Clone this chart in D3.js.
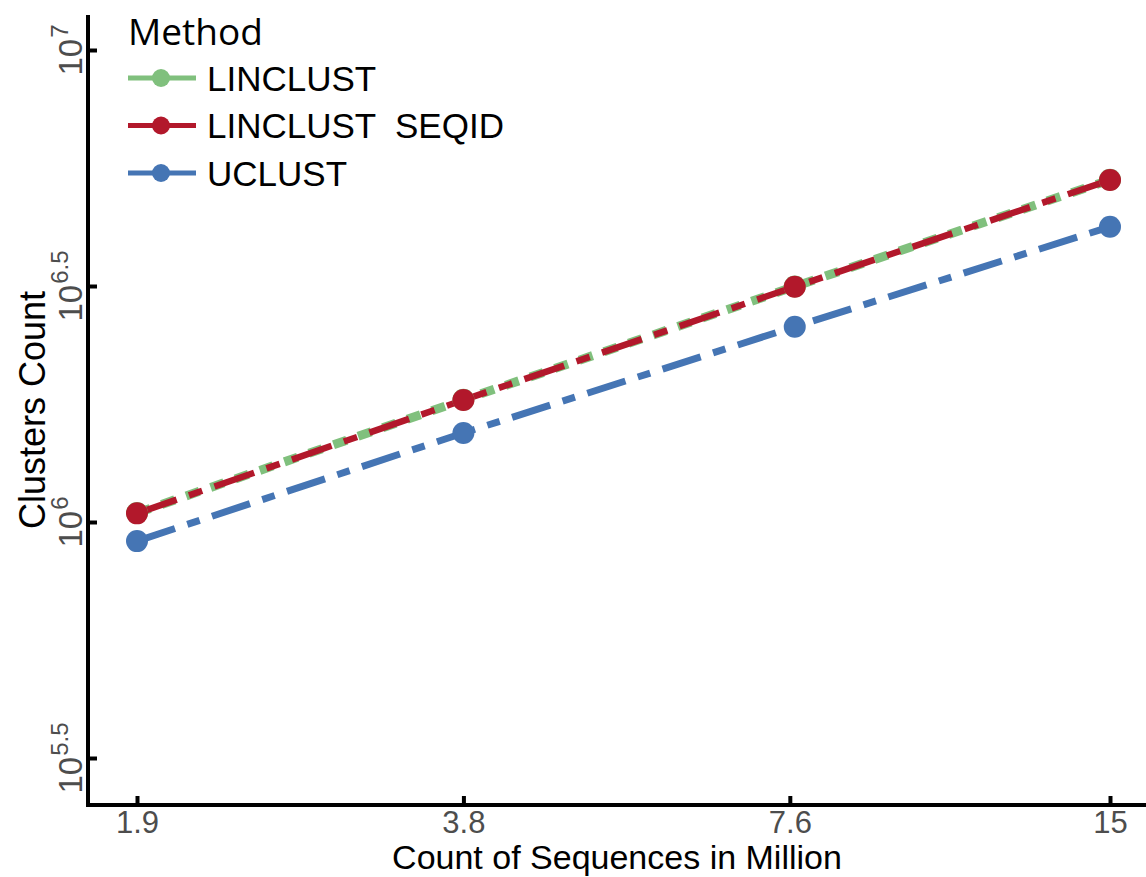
<!doctype HTML>
<html>
<head>
    <style>
        body { margin: 0; background: white; }
        .tick-label { fill: #4d4d4d; font-family: "Liberation Sans", Arial, sans-serif; }
        .axis-title { fill: black; font-family: "Liberation Sans", Arial, sans-serif; }
    </style>
    <script src="https://d3js.org/d3.v7.min.js"></script>
</head>
<body>
<script>
    var canvasWidth = 1146;
    var canvasHeight = 877;

    // data
    var methods = ["LINCLUST", "LINCLUST  SEQID", "UCLUST"];
    var seqCounts = [1.9, 3.8, 7.68, 15];
    var linclust = [1.045e6, 1.815e6, 3.155e6, 5.31e6];
    var linclustSeqid = [1.043e6, 1.813e6, 3.151e6, 5.304e6];
    var uclust = [0.911e6, 1.544e6, 2.593e6, 4.223e6];
    var xTicks = [1.9, 3.8, 7.6, 15];
    var yTicks = [5.5, 6, 6.5, 7];

    var series = [
        {name: methods[0], values: linclust, color: "#80c07d", width: 9, dash: "14,12"},
        {name: methods[1], values: linclustSeqid, color: "#b2182b", width: 6.5, dash: "42,13,14,13"},
        {name: methods[2], values: uclust, color: "#4575b4", width: 7, dash: "40,13,13,13"}
    ];

    var svg = d3.select("body").append("svg")
        .attr("width", canvasWidth)
        .attr("height", canvasHeight);

    var panelLeft = 88, panelRight = 1146, panelTop = 15, panelBottom = 805;

    var xScale = d3.scaleLog().domain([1.9, 15]).range([137, 1110]);
    var yScale = d3.scaleLog().domain([Math.pow(10, 5.5), 1e7]).range([758, 50]);

    // lines
    var line = d3.line()
        .x(function(d, i) { return xScale(seqCounts[i]); })
        .y(function(d) { return yScale(d); });

    series.forEach(function(s) {
        svg.append("path")
            .datum(s.values)
            .attr("d", line)
            .attr("fill", "none")
            .attr("stroke", s.color)
            .attr("stroke-width", s.width)
            .attr("stroke-dasharray", s.dash);
    });

    // points
    series.forEach(function(s) {
        svg.selectAll(null)
            .data(s.values)
            .enter().append("circle")
            .attr("cx", function(d, i) { return xScale(seqCounts[i]); })
            .attr("cy", function(d) { return yScale(d); })
            .attr("r", 11)
            .attr("fill", s.color);
    });

    // X axis
    var xAxis = svg.append("g")
        .attr("transform", "translate(0," + panelBottom + ")")
        .call(d3.axisBottom(xScale).tickValues(xTicks).tickSize(-9).tickFormat(d3.format("")));
    xAxis.select(".domain").remove();
    xAxis.selectAll(".tick line").attr("stroke", "black").attr("stroke-width", 4);
    xAxis.selectAll(".tick text")
        .attr("class", "tick-label")
        .attr("y", 28)
        .attr("dy", 0)
        .attr("font-size", "31px");
    svg.append("line")
        .attr("x1", panelLeft - 2).attr("x2", panelRight)
        .attr("y1", panelBottom).attr("y2", panelBottom)
        .attr("stroke", "black").attr("stroke-width", 4);

    // Y axis
    var yAxis = svg.append("g")
        .attr("transform", "translate(" + panelLeft + ",0)")
        .call(d3.axisLeft(yScale).tickValues(yTicks.map(function(t) { return Math.pow(10, t); }))
            .tickSize(-9).tickFormat(""));
    yAxis.select(".domain").remove();
    yAxis.selectAll(".tick line").attr("stroke", "black").attr("stroke-width", 4);
    svg.append("line")
        .attr("x1", panelLeft).attr("x2", panelLeft)
        .attr("y1", panelTop).attr("y2", panelBottom + 2)
        .attr("stroke", "black").attr("stroke-width", 4);

    var yLabels = svg.selectAll(".ylab")
        .data(yTicks)
        .enter().append("text")
        .attr("class", "tick-label")
        .attr("text-anchor", "middle")
        .attr("transform", function(d) {
            return "translate(82," + yScale(Math.pow(10, d)) + ") rotate(-90)";
        });
    yLabels.append("tspan").attr("font-size", "33px").text("10");
    yLabels.append("tspan").attr("font-size", "24px").attr("dy", -14).attr("dx", 1)
        .text(function(d) { return d; });

    // axis titles
    svg.append("text")
        .attr("class", "axis-title")
        .attr("x", (panelLeft + panelRight) / 2)
        .attr("y", 869)
        .attr("text-anchor", "middle")
        .attr("font-size", "34px")
        .text("Count of Sequences in Million");

    svg.append("text")
        .attr("class", "axis-title")
        .attr("transform", "translate(45," + (panelTop + panelBottom) / 2 + ") rotate(-90)")
        .attr("text-anchor", "middle")
        .attr("font-size", "36px")
        .text("Clusters Count");

    // legend
    svg.append("text")
        .attr("x", 128)
        .attr("y", 45)
        .attr("font-family", "'Open Sans', sans-serif")
        .attr("font-size", "37px")
        .text("Method");

    var legend = svg.selectAll(".legend")
        .data(series)
        .enter().append("g")
        .attr("transform", function(d, i) { return "translate(0," + (78 + i * 47.5) + ")"; });
    legend.append("line")
        .attr("x1", 128).attr("x2", 196)
        .attr("stroke", function(d) { return d.color; })
        .attr("stroke-width", 5);
    legend.append("circle")
        .attr("cx", 161).attr("r", 9)
        .attr("fill", function(d) { return d.color; });
    legend.append("text")
        .attr("x", 207)
        .attr("y", 12.5)
        .attr("font-family", "'Liberation Sans', Arial, sans-serif")
        .attr("font-size", "35px")
        .style("white-space", "pre")
        .text(function(d) { return d.name; });
</script>
</body>
</html>
